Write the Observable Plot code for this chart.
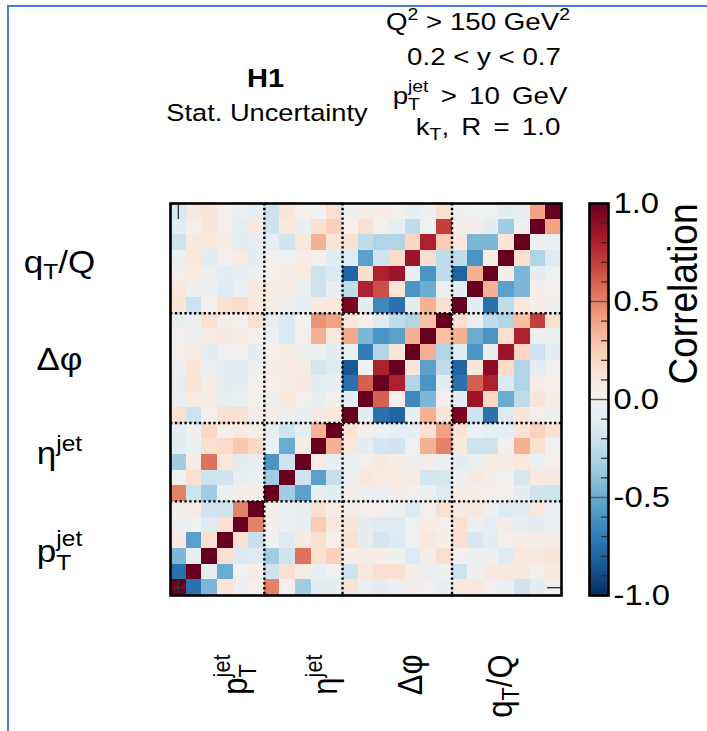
<!DOCTYPE html>
<html><head><meta charset="utf-8">
<script src="https://cdn.jsdelivr.net/npm/d3@7"></script>
<script src="https://cdn.jsdelivr.net/npm/@observablehq/plot@0.6"></script>
<style>
html,body{margin:0;padding:0;background:#fff;}
#wrap{position:relative;width:707px;height:731px;overflow:hidden;background:#fff;font-family:"Liberation Sans",Arial,Helvetica,sans-serif;}
#wrap svg{position:absolute;top:0;}
</style></head><body><div id="wrap"></div>
<script>
// ---------------- data ----------------
const blockNames = ["p_{T}^{jet}", "η^{jet}", "Δφ", "q_{T}/Q"];
const blockSizes = [6, 5, 7, 7];
const yLabelPos = [2.8, 9.0, 15.0, 21.2];    // tick positions of the left labels (bins)
const xLabelPos = [4.26, 10.0, 15.45, 21.2]; // tick positions of the bottom labels (bins)
const cornerTick = [0.5];
const cbarTicks = [-1, -0.5, 0, 0.5, 1];
const cbarMinor = [-0.9,-0.8,-0.7,-0.6,-0.4,-0.3,-0.2,-0.1,0.1,0.2,0.3,0.4,0.6,0.7,0.8,0.9];

// correlation rows, bottom (bin 0) to top (bin 24); each row lists columns 0..24
const rowsPt = [
  [1.0,-0.75,-0.45,0.12,-0.04,0.02,0.5,0.0,-0.35,-0.1,-0.1,0.13,-0.06,-0.1,-0.05,0.04,0.0,-0.07,0.1,0.1,0.0,-0.06,-0.18,-0.1,0.0],
  [-0.75,1.0,-0.08,-0.5,-0.02,0.06,-0.2,0.15,0.06,-0.07,-0.02,-0.2,0.1,0.15,0.15,0.06,-0.05,-0.03,-0.2,-0.03,0.08,0.1,0.1,0.01,0.1],
  [-0.45,-0.08,1.0,0.15,-0.15,-0.12,-0.35,-0.18,0.55,0.15,0.22,0.05,0.06,0.04,-0.03,-0.12,0.04,0.15,0.0,-0.03,-0.03,-0.12,0.1,0.1,0.12],
  [0.08,-0.55,0.15,1.0,0.15,-0.22,-0.02,-0.12,0.08,0.15,0.03,0.15,-0.1,-0.17,-0.13,-0.02,0.1,0.05,0.15,-0.16,-0.1,0.02,0.04,0.04,0.04],
  [-0.05,-0.02,-0.12,0.15,1.0,0.5,0.04,-0.05,-0.07,0.25,0.1,0.12,-0.1,-0.12,-0.12,-0.02,0.05,0.02,0.15,-0.06,-0.08,0.06,-0.08,-0.1,-0.05],
  [0.04,0.06,-0.18,-0.18,0.5,1.0,0.04,-0.05,-0.08,0.15,0.07,0.04,0.02,0.02,-0.04,-0.12,0.01,0.15,0.1,0.1,-0.04,-0.12,-0.12,0.1,-0.06]
];
const rowsEta = [
  [0.5,-0.2,-0.35,-0.05,0.04,0.05,1.0,-0.35,-0.55,-0.07,-0.1,0.04,-0.05,-0.05,0.04,0.02,-0.03,-0.12,0.05,0.04,0.02,0.01,-0.1,-0.18,-0.2],
  [-0.02,0.15,-0.2,-0.18,-0.07,-0.06,-0.35,1.0,-0.2,-0.55,-0.22,-0.06,0.1,0.07,0.07,0.07,-0.17,-0.16,-0.04,0.08,0.04,-0.02,-0.16,0.1,0.1],
  [-0.35,0.06,0.55,0.1,-0.1,-0.08,-0.6,-0.2,1.0,0.06,-0.08,-0.06,0.0,0.08,0.05,-0.03,0.04,-0.04,-0.1,-0.06,0.07,0.07,0.1,-0.06,0.02],
  [-0.1,-0.06,0.15,0.18,0.27,0.2,-0.06,-0.5,0.05,1.0,0.35,0.1,-0.1,-0.17,-0.18,-0.02,0.35,0.5,0.1,-0.2,-0.2,0.0,0.35,0.15,-0.02],
  [-0.1,-0.04,0.2,0.03,0.08,0.05,-0.1,-0.2,-0.08,0.35,1.0,0.13,0.03,-0.06,-0.1,-0.1,0.15,0.4,0.13,-0.05,-0.1,-0.08,0.13,0.22,0.14]
];
const rowsDphi = [
  [0.15,-0.2,0.01,0.15,0.15,0.04,0.04,-0.04,-0.07,0.08,0.1,1.0,-0.1,-0.75,-0.8,-0.08,0.35,0.12,0.95,-0.2,-0.75,-0.12,0.12,0.03,-0.03],
  [-0.05,0.06,0.05,-0.08,-0.06,0.01,-0.04,0.1,0.0,-0.07,0.0,-0.1,1.0,0.6,0.0,-0.65,-0.45,0.02,-0.1,0.85,0.2,-0.5,-0.25,0.12,0.05],
  [-0.08,0.12,0.05,-0.1,-0.1,0.02,0.03,0.05,0.08,-0.1,-0.07,-0.75,0.6,1.0,0.8,-0.3,-0.6,-0.1,-0.75,0.6,0.8,-0.15,-0.3,0.04,0.03],
  [-0.05,0.12,-0.05,-0.1,-0.1,-0.04,0.04,0.05,0.05,-0.17,-0.12,-0.85,-0.02,0.8,1.0,0.12,-0.55,-0.25,-0.8,0.12,0.9,0.18,-0.3,-0.1,0.0],
  [0.03,0.06,-0.1,-0.02,0.02,-0.1,0.03,0.05,-0.03,-0.03,-0.1,-0.06,-0.7,-0.3,0.12,1.0,0.35,-0.3,-0.12,-0.6,-0.07,0.85,0.2,-0.2,-0.1],
  [0.0,-0.03,0.05,0.08,0.05,0.02,-0.04,-0.15,0.03,0.35,0.1,0.38,-0.45,-0.6,-0.55,0.35,1.0,0.3,0.35,-0.5,-0.6,0.15,0.8,-0.03,-0.05],
  [-0.07,-0.03,0.15,0.05,0.02,0.15,-0.1,-0.15,-0.02,0.45,0.4,0.1,0.03,-0.12,-0.25,-0.3,0.3,1.0,0.15,-0.05,-0.25,-0.3,0.3,0.7,0.15]
];
const rowsQt = [
  [0.12,-0.2,0.01,0.15,0.18,0.1,0.05,-0.04,-0.08,0.08,0.1,0.95,-0.1,-0.65,-0.75,-0.1,0.35,0.15,1.0,-0.1,-0.75,-0.25,0.1,0.05,-0.04],
  [0.1,-0.04,-0.04,-0.12,-0.06,0.08,0.07,0.07,-0.06,-0.2,-0.07,-0.25,0.8,0.65,0.12,-0.6,-0.5,-0.05,-0.1,1.0,0.35,-0.55,-0.45,0.04,0.01],
  [0.01,0.07,-0.04,-0.1,-0.07,-0.04,0.02,0.06,0.07,-0.2,-0.15,-0.8,0.15,0.8,0.85,-0.07,-0.6,-0.25,-0.8,0.35,1.0,0.04,-0.45,-0.1,-0.02],
  [-0.05,0.1,-0.1,0.02,0.07,-0.1,0.0,-0.02,0.05,0.02,-0.1,-0.12,-0.55,-0.2,0.18,0.85,0.15,-0.25,-0.25,-0.6,0.05,1.0,0.15,-0.3,-0.12],
  [-0.2,0.1,0.1,0.05,-0.1,-0.08,-0.1,-0.18,0.1,0.35,0.12,0.15,-0.25,-0.3,-0.3,0.2,0.8,0.25,0.1,-0.45,-0.45,0.12,1.0,-0.04,-0.06],
  [-0.1,0.02,0.12,0.03,-0.08,0.1,-0.2,0.1,-0.07,0.15,0.22,0.03,0.15,0.02,-0.08,-0.25,-0.02,0.7,0.05,0.04,-0.1,-0.35,-0.03,1.0,0.4],
  [-0.15,0.08,0.12,0.02,-0.05,-0.08,-0.2,0.12,0.02,-0.02,0.15,-0.03,0.04,0.04,0.01,-0.08,-0.04,0.15,-0.03,-0.02,-0.02,-0.1,-0.07,0.4,1.0]
];

// header texts
const titleLines = ["H1", "Stat. Uncertainty"];
const cutLines = ["Q^{2} > 150 GeV^{2}", "0.2 < y < 0.7", "p_{T}^{jet} > 10 GeV", "k_{T}, R = 1.0"];

// ---------------- build ----------------
const FONT = '"Liberation Sans", Arial, Helvetica, sans-serif';
const SX = 1.13;
const NS = "http://www.w3.org/2000/svg";
const allRows = [...rowsPt, ...rowsEta, ...rowsDphi, ...rowsQt];
const cells = allRows.flatMap((row, j) => row.map((v, c) => ({c, j, v})));
const nBins = allRows.length;
const boundaries = d3.cumsum(blockSizes).slice(0, -1);
const colorScale = {type: "linear", scheme: "rdbu", domain: [-1, 1], reverse: true};

const wrap = document.getElementById("wrap");

const main = Plot.plot({
  width: 707, height: 731,
  marginLeft: 170, marginRight: 146, marginTop: 203, marginBottom: 136,
  x: {domain: [0, nBins], axis: null},
  y: {domain: [0, nBins], axis: null},
  color: colorScale,
  style: {fontFamily: FONT, background: "transparent", overflow: "visible"},
  marks: [
    Plot.rect(cells, {x1: "c", x2: d => d.c + 1, y1: "j", y2: d => d.j + 1, fill: "v", shapeRendering: "crispEdges"}),
    Plot.ruleX(boundaries, {stroke: "black", strokeWidth: 2.4, strokeDasharray: "2.4,2.4"}),
    Plot.ruleY(boundaries, {stroke: "black", strokeWidth: 2.4, strokeDasharray: "2.4,2.4"}),
    Plot.axisX({anchor: "top", ticks: cornerTick, tickSize: -15, tickFormat: () => "", stroke: "#333", strokeWidth: 1.3, label: null}),
    Plot.axisX({anchor: "bottom", ticks: cornerTick, tickSize: -15, tickFormat: () => "", stroke: "#333", strokeWidth: 1.3, label: null}),
    Plot.axisY({anchor: "left", ticks: cornerTick, tickSize: -15, tickFormat: () => "", stroke: "#333", strokeWidth: 1.3, label: null}),
    Plot.axisY({anchor: "right", ticks: cornerTick, tickSize: -15, tickFormat: () => "", stroke: "#333", strokeWidth: 1.3, label: null}),
    Plot.frame({stroke: "black", strokeWidth: 2.6}),
    Plot.text(blockNames, {y: (d, i) => yLabelPos[i], frameAnchor: "left", dx: -111, fontSize: 31, textAnchor: "middle", lineAnchor: "middle"}),
    Plot.text(blockNames, {x: (d, i) => xLabelPos[i], frameAnchor: "bottom", dy: 59, rotate: -90, fontSize: 31, textAnchor: "end", lineAnchor: "middle"})
  ]
});
main.style.left = "0px";
wrap.appendChild(main);

const step = 0.01;
const steps = d3.range(-1, 1, step);
const cbar = Plot.plot({
  width: 147, height: 731,
  marginLeft: 29, marginRight: 99, marginTop: 203, marginBottom: 136,
  x: {domain: [0, 1], axis: null},
  y: {domain: [-1, 1], axis: null},
  color: colorScale,
  style: {fontFamily: FONT, background: "transparent", overflow: "visible"},
  marks: [
    Plot.rect(steps, {y1: d => d, y2: d => Math.min(1, d + step * 1.5), fill: d => d + step / 2}),
    Plot.ruleY(cbarMinor, {x1: 0.63, x2: 1, stroke: "#2a2a2a", strokeWidth: 1.2}),
    Plot.ruleY(cbarTicks, {stroke: "#555", strokeWidth: 1.4}),
    Plot.frame({stroke: "black", strokeWidth: 2.6}),
    Plot.text(cbarTicks, {y: d => d, text: d => d.toFixed(1), frameAnchor: "right", dx: 5, textAnchor: "start", lineAnchor: "middle", fontSize: 29}),
    Plot.text(["Correlation"], {frameAnchor: "top-right", dx: 77, rotate: -90, fontSize: 37, textAnchor: "end", lineAnchor: "middle"})
  ]
});
cbar.style.left = "560px";
wrap.appendChild(cbar);

// ---------- helpers for mathtext-like labels ----------
function richText(el, s, fs) {
  const toks = [];
  const re = /([_^])\{([^}]*)\}|([^_^]+)/g; let m;
  while ((m = re.exec(s))) toks.push(m[3] !== undefined ? {t: m[3], k: ""} : {t: m[2], k: m[1]});
  el.textContent = "";
  let cur = 0, prevSpan = null;
  toks.forEach((tk, i) => {
    const next = toks[i + 1], prev = toks[i - 1];
    const stacked = (tk.k === "_" && next && next.k === "^") || (tk.k === "^" && prev && prev.k === "_");
    const off = tk.k === "^" ? (stacked ? -0.5 : -0.42) : tk.k === "_" ? (stacked ? 0.26 : 0.2) : 0;
    const sp = document.createElementNS(NS, "tspan");
    sp.textContent = tk.t;
    if (tk.k) sp.setAttribute("font-size", (fs * 0.7) + "px");
    const dy = (off - cur) * fs;
    if (dy) sp.setAttribute("dy", dy.toFixed(2));
    cur = off;
    el.appendChild(sp);
    if (tk.k === "^" && prev && prev.k === "_" && prevSpan) {
      sp.setAttribute("dx", (-prevSpan.getComputedTextLength()).toFixed(2));
    }
    prevSpan = sp;
  });
}
// widen a text horizontally (in screen space) about its anchor point
function stretch(el, sx) {
  const parent = el.parentNode;
  const M = parent.getCTM().inverse().multiply(el.getCTM());
  const xl = el.x && el.x.baseVal && el.x.baseVal.numberOfItems ? el.x.baseVal.getItem(0).value : 0;
  const yl = el.y && el.y.baseVal && el.y.baseVal.numberOfItems ? el.y.baseVal.getItem(0).value : 0;
  const p = new DOMPoint(xl, yl).matrixTransform(M);
  const g = document.createElementNS(NS, "g");
  g.setAttribute("transform", `translate(${p.x},${p.y}) scale(${sx},1) translate(${-p.x},${-p.y})`);
  parent.insertBefore(g, el);
  g.appendChild(el);
}

Array.from(main.querySelectorAll("text")).forEach(el => {
  const s = el.textContent;
  if (blockNames.includes(s)) {
    richText(el, s, 31);
    stretch(el, SX);
  }
});
Array.from(cbar.querySelectorAll("text")).forEach(el => {
  const s = el.textContent;
  if (s === "Correlation") stretch(el, 1.08);
  else if (s) stretch(el, SX);
});

// ---------- header and page border ----------
const over = document.createElementNS(NS, "svg");
over.setAttribute("width", 707); over.setAttribute("height", 731);
over.style.left = "0px"; over.style.pointerEvents = "none";
wrap.appendChild(over);
function addText(s, cx, base, fs, weight, sx, ws) {
  const g = document.createElementNS(NS, "g");
  g.setAttribute("transform", `translate(${cx},${base}) scale(${sx},1)`);
  const t = document.createElementNS(NS, "text");
  t.setAttribute("text-anchor", "middle");
  t.setAttribute("font-family", FONT);
  t.setAttribute("font-size", fs);
  if (weight) t.setAttribute("font-weight", weight);
  if (ws) t.setAttribute("word-spacing", ws);
  t.setAttribute("fill", "black");
  g.appendChild(t); over.appendChild(g);
  richText(t, s, fs);
}
addText(titleLines[0], 265.5, 87, 25.7, "bold", SX, 0);
addText(titleLines[1], 267, 121, 23.3, null, 1.17, 0);
const cutCx = [478, 484, 480, 488], cutBase = [30, 65, 104, 135], cutWs = [0, 0, 4, 4];
cutLines.forEach((s, i) => addText(s, cutCx[i], cutBase[i], 24.5, null, SX, cutWs[i]));

const border = document.createElementNS(NS, "path");
border.setAttribute("d", "M8,731 L8,6 L707,6");
border.setAttribute("fill", "none");
border.setAttribute("stroke", "#4a7bd0");
border.setAttribute("stroke-width", "2");
over.appendChild(border);
</script>
</body></html>
